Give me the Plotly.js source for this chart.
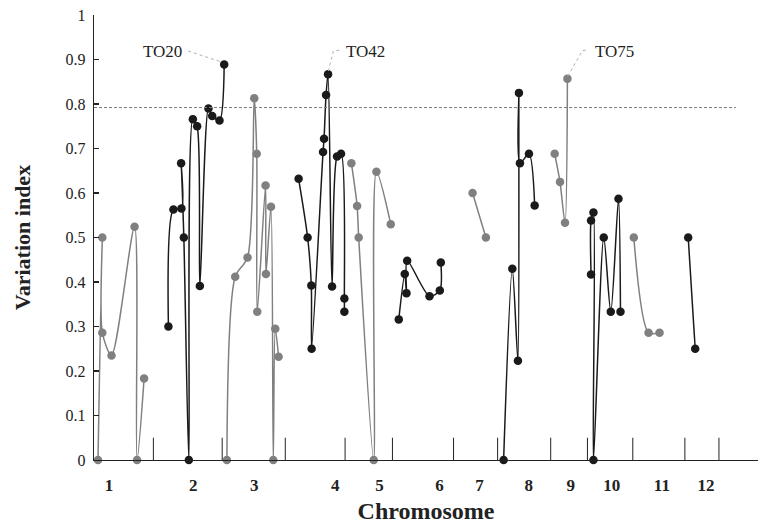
<!DOCTYPE html>
<html><head><meta charset="utf-8">
<script src="https://cdn.plot.ly/plotly-3.0.1.min.js"></script>
<style>html,body{margin:0;padding:0;background:#fff;}#chart{width:761px;height:526px;}</style>
</head><body><div id="chart"></div>
<script>
// Position along the genome (arbitrary map units) and variation index per chromosome
const pos1 = [4, 8.3, 8.3, 17.5, 40.5, 43, 50];
const vi1  = [0, 0.5, 0.286, 0.235, 0.524, 0, 0.183];
const pos2 = [74.3, 79.3, 87.3, 87, 89.7, 94.7, 98.7, 103, 105.7, 114.3, 118, 125.3, 130];
const vi2  = [0.30, 0.563, 0.565, 0.667, 0.5, 0, 0.766, 0.75, 0.391, 0.79, 0.773, 0.763, 0.889];
const pos3 = [132.7, 141, 153.3, 160, 162.5, 163, 171.3, 171.7, 176.7, 179, 181, 184.3];
const vi3  = [0, 0.412, 0.455, 0.813, 0.688, 0.333, 0.617, 0.418, 0.569, 0, 0.295, 0.232];
const pos4 = [204.3, 213.3, 217, 217.3, 228.7, 229.7, 231.7, 233.7, 237.7, 242.7, 246.7, 250, 250];
const vi4  = [0.632, 0.5, 0.392, 0.25, 0.692, 0.722, 0.82, 0.867, 0.39, 0.682, 0.688, 0.363, 0.333];
const pos5 = [257, 262.7, 264.3, 279.3, 282, 296.3];
const vi5  = [0.667, 0.571, 0.5, 0, 0.648, 0.53];
const pos6 = [304.3, 310.3, 312, 312.7, 335, 345.3, 346.3];
const vi6  = [0.316, 0.418, 0.375, 0.448, 0.368, 0.381, 0.444];
const pos7 = [378, 391.3];
const vi7  = [0.60, 0.50];
const pos8 = [409, 417.7, 423.3, 424.3, 425.3, 434.3, 440];
const vi8  = [0, 0.43, 0.223, 0.825, 0.667, 0.688, 0.572];
const pos9 = [460, 465.3, 470.3, 472.7];
const vi9  = [0.688, 0.625, 0.533, 0.857];
const pos10 = [496.3, 496.3, 498.7, 498.7, 509, 516, 523.7, 525.7];
const vi10  = [0.417, 0.538, 0.556, 0, 0.5, 0.333, 0.587, 0.333];
const pos11 = [539, 553.7, 564.7];
const vi11  = [0.5, 0.286, 0.286];
const pos12 = [593.3, 600.3];
const vi12  = [0.5, 0.25];

const chromLabels = ['1','2','3','4','5','6','7','8','9','10','11','12'];
const chromLabelPos = [15, 99, 160, 241, 285, 345, 385, 434, 476, 517, 567, 611];
const chromBoundaries = [59.3, 128, 191, 250.7, 298, 359, 403, 456, 492.7, 538, 590, 624];
const threshold = 0.792;
const thresholdEnd = 641;

const markerNames = ['TO20', 'TO42', 'TO75'];
const markerLabelPos = [68, 271, 519.5];
const markerLabelVi = [0.917, 0.919, 0.917];
const leaderPos = [[94, 128], [245, 239, 234], [491, 487.7, 472.7]];
const leaderVi  = [[0.919, 0.894], [0.921, 0.919, 0.874], [0.921, 0.920, 0.861]];

const allPos = [pos1,pos2,pos3,pos4,pos5,pos6,pos7,pos8,pos9,pos10,pos11,pos12];
const allVi  = [vi1,vi2,vi3,vi4,vi5,vi6,vi7,vi8,vi9,vi10,vi11,vi12];

const GRAY = '#808080', BLACK = '#1a1a1a';
const serif = 'Liberation Serif, Times New Roman, serif';

const traces = allPos.map((p, i) => {
  const c = (i % 2 === 0) ? GRAY : BLACK;
  return {
    x: p, y: allVi[i], type: 'scatter', mode: 'lines+markers',
    line: {color: c, width: 1.5, shape: 'spline', smoothing: 0.8},
    marker: {color: c, size: 8.5},
    cliponaxis: false, hoverinfo: 'skip', showlegend: false
  };
});

const shapes = [];
shapes.push({type: 'line', xref: 'x', yref: 'y', x0: 0, x1: thresholdEnd, y0: threshold, y1: threshold,
  line: {color: '#7a7a7a', width: 1, dash: '3px,2px'}});
chromBoundaries.forEach(b => shapes.push({type: 'line', xref: 'x', yref: 'y', x0: b, x1: b, y0: 0, y1: 0.05,
  line: {color: '#222', width: 1}}));
leaderPos.forEach((lp, k) => {
  let d = '';
  lp.forEach((xv, j) => { d += (j === 0 ? 'M' : 'L') + xv + ',' + leaderVi[k][j] + ' '; });
  shapes.push({type: 'path', xref: 'x', yref: 'y', path: d.trim(), line: {color: '#b0b0b0', width: 1, dash: 'dot'}});
});

const annotations = markerNames.map((t, k) => ({
  x: markerLabelPos[k], y: markerLabelVi[k], xref: 'x', yref: 'y', text: t, showarrow: false,
  font: {family: serif, size: 17, color: '#222'}, xanchor: 'center', yanchor: 'middle'
}));

const layout = {
  width: 761, height: 526,
  margin: {l: 94, r: 3, t: 15, b: 66},
  paper_bgcolor: '#fff', plot_bgcolor: '#fff',
  font: {family: serif, color: '#222'},
  xaxis: {
    range: [0, 663], showgrid: false, zeroline: false, showline: true, linecolor: '#222', linewidth: 1.3,
    tickmode: 'array', tickvals: chromLabelPos, ticktext: chromLabels, ticks: '',
    tickfont: {family: serif, size: 17, weight: 'bold', color: '#222'},
    ticklabelstandoff: 9,
    title: {text: 'Chromosome', font: {family: serif, size: 24, weight: 'bold', color: '#222'}, standoff: 8}
  },
  yaxis: {
    range: [0, 1], dtick: 0.1, showgrid: false, zeroline: false, showline: true, linecolor: '#222', linewidth: 1.3,
    ticks: 'inside', ticklen: 5, tickcolor: '#222', tickwidth: 1.3,
    tickfont: {family: serif, size: 16, color: '#222'},
    ticksuffix: '\u00a0',
    title: {text: 'Variation index', font: {family: serif, size: 22, weight: 'bold', color: '#222'}, standoff: 28}
  },
  shapes: shapes, annotations: annotations
};

Plotly.newPlot('chart', traces, layout, {displayModeBar: false, staticPlot: true});
</script>
</body></html>
